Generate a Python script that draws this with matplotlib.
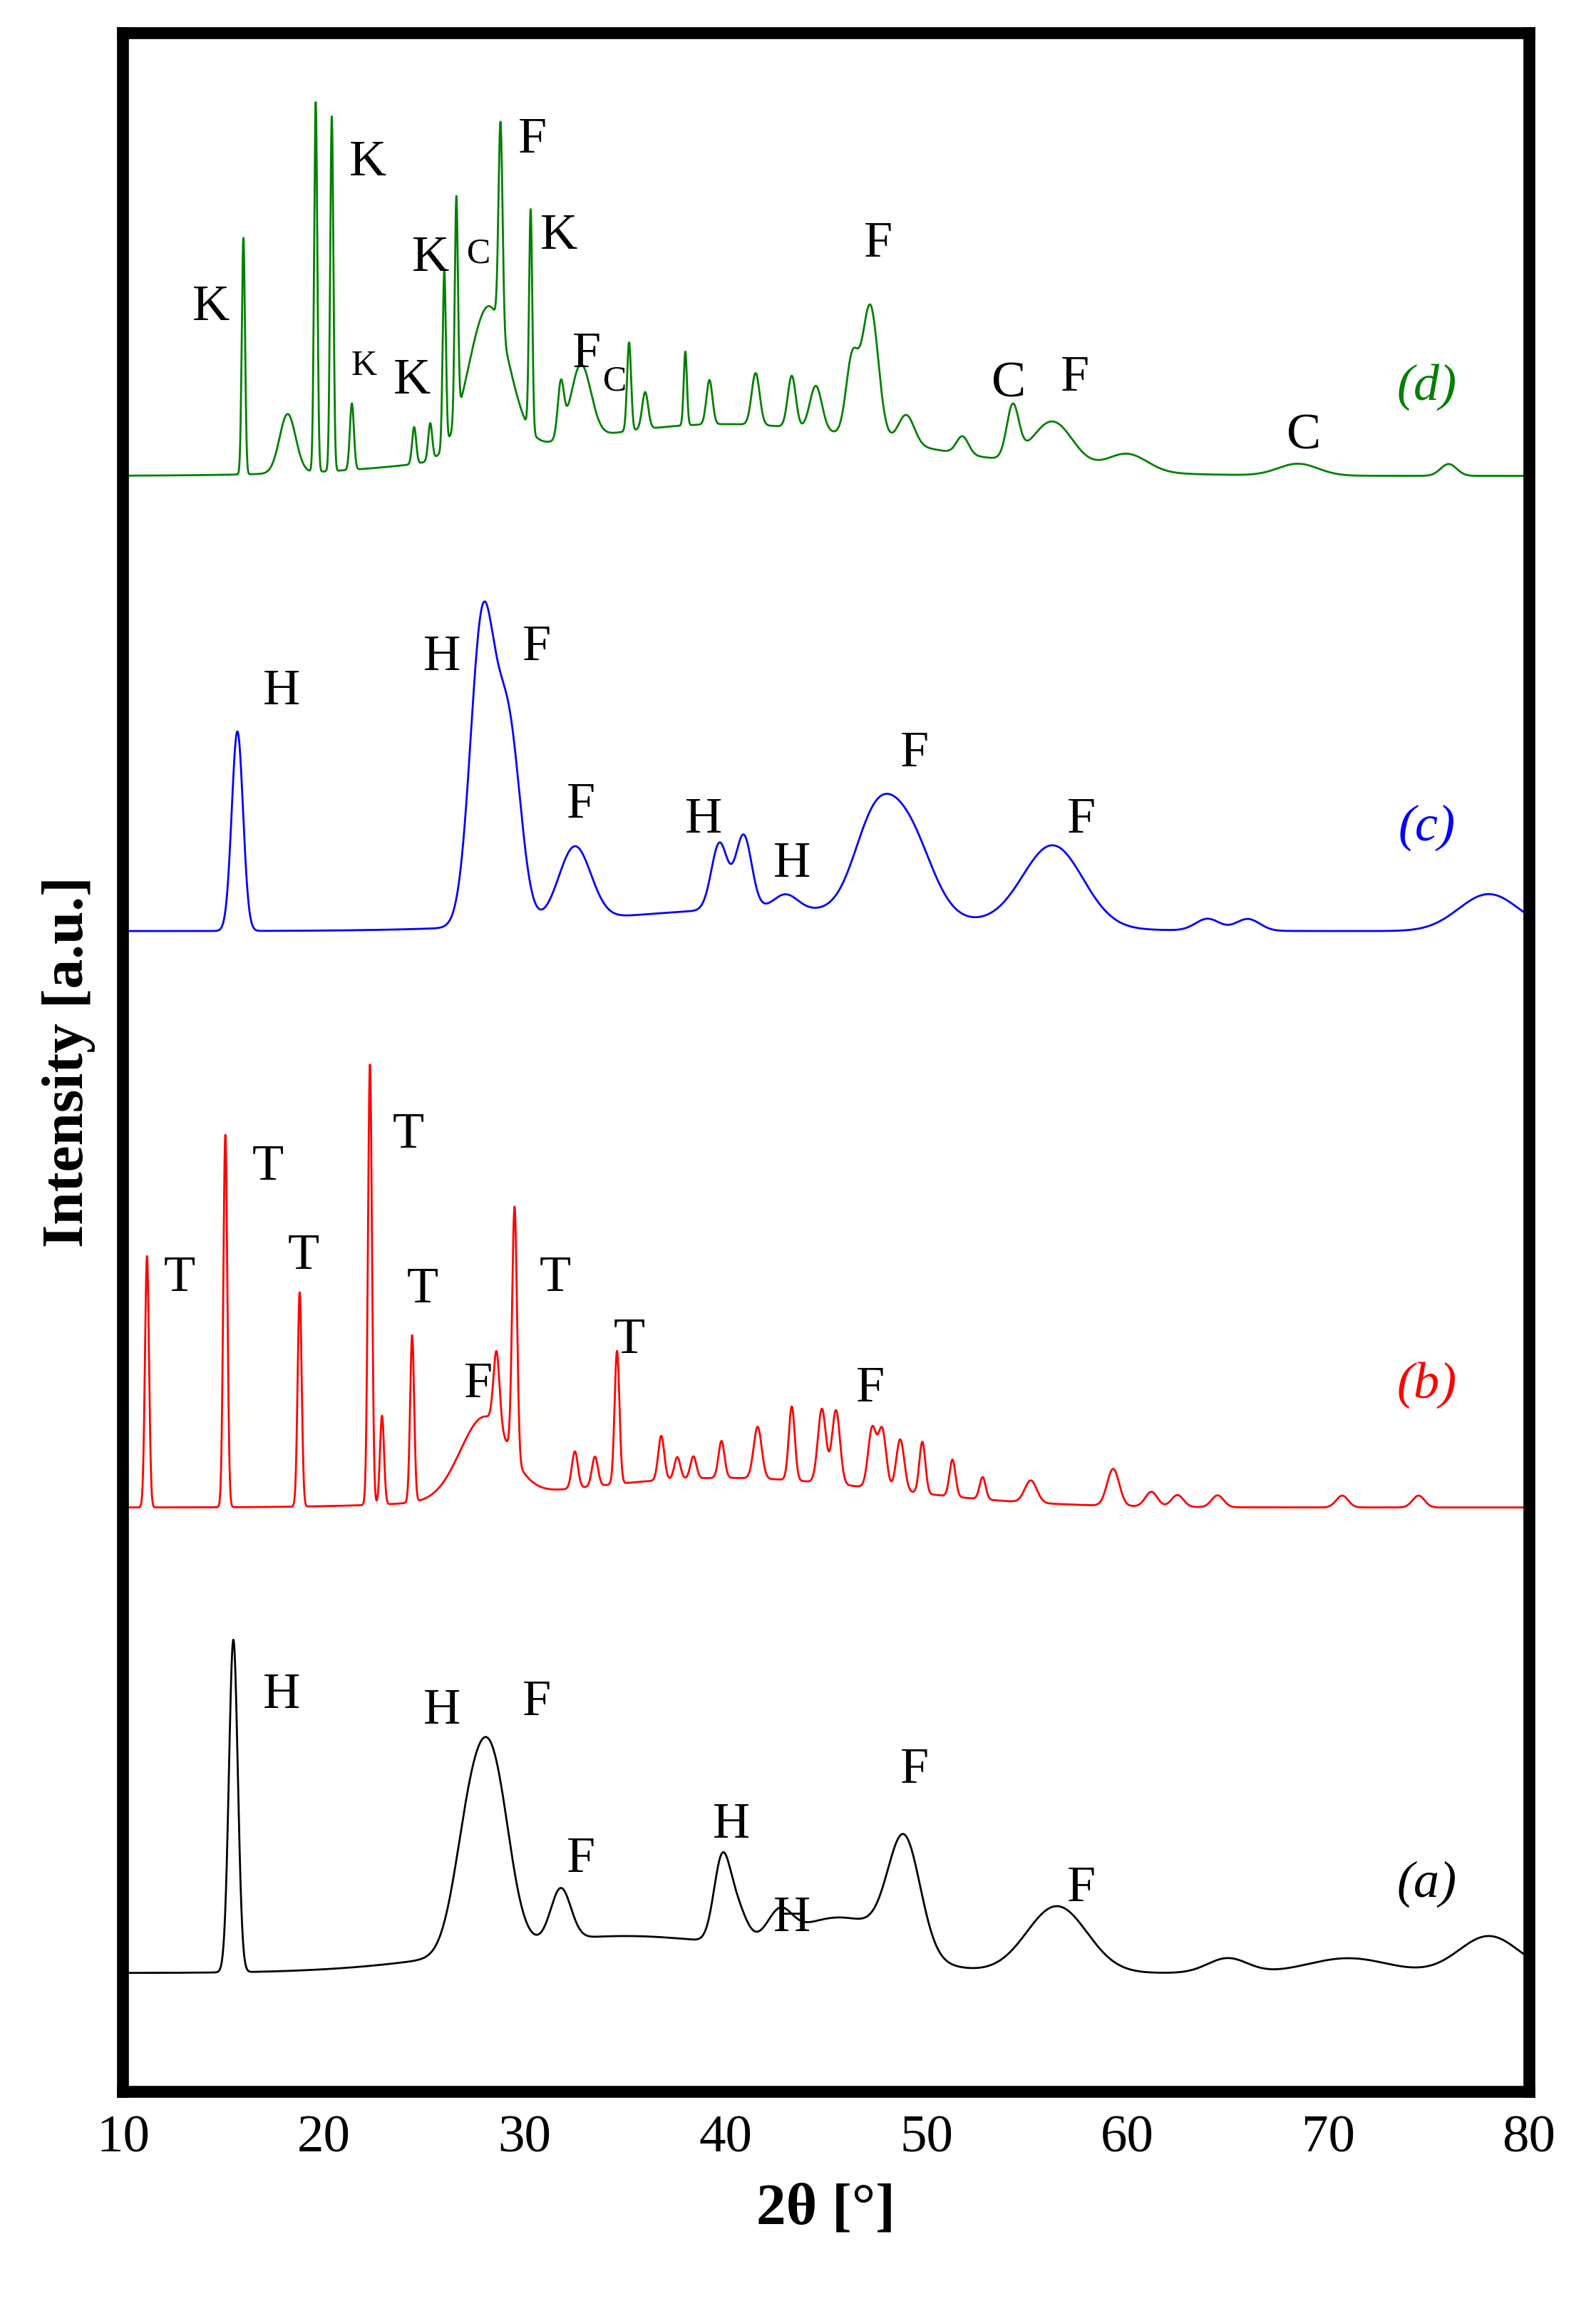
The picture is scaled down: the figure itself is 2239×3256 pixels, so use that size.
import numpy as np
import matplotlib.pyplot as plt

plt.rcParams['font.family'] = ['Liberation Serif', 'DejaVu Serif']

# peaks: (position 2theta, height, width sigma); offsets are baselines in plot units
base_a = 80
peaks_a = [(15.5, 225, 0.22), (27.3, 85, 0.8), (28.5, 105, 0.8), (31.8, 35, 0.5),
           (39.8, 50, 0.4), (40.5, 25, 0.5), (42.7, 18, 0.6), (46.0, 30, 2.5),
           (48.9, 75, 0.8), (56.5, 45, 1.5), (65.0, 10, 1.0), (71.0, 10, 2.0),
           (78.0, 25, 1.5), (35.0, 25, 7.0)]

base_b = 395
peaks_b = [(11.2, 170, 0.1), (15.1, 252, 0.1), (18.8, 145, 0.1), (22.3, 298, 0.1),
           (22.9, 60, 0.1), (24.4, 113, 0.1), (28.0, 55, 1.2), (28.6, 50, 0.15),
           (29.5, 170, 0.12), (32.5, 25, 0.15), (33.5, 20, 0.15), (34.6, 90, 0.12),
           (36.8, 30, 0.15), (37.6, 15, 0.15), (38.4, 15, 0.15), (39.8, 25, 0.15),
           (41.6, 35, 0.2), (43.3, 50, 0.15), (44.8, 50, 0.2), (45.5, 50, 0.2),
           (47.3, 40, 0.2), (47.8, 40, 0.2), (48.7, 35, 0.2), (49.8, 35, 0.15),
           (51.3, 25, 0.15), (52.8, 15, 0.15), (55.2, 15, 0.3), (59.3, 25, 0.3),
           (61.2, 10, 0.3), (62.5, 8, 0.3), (64.5, 8, 0.3), (70.7, 8, 0.3),
           (74.5, 8, 0.3), (40.0, 20, 8.0)]

base_c = 785
peaks_c = [(15.7, 135, 0.28), (27.9, 205, 0.6), (29.2, 130, 0.6), (32.5, 50, 0.8),
           (39.7, 45, 0.4), (40.9, 50, 0.4), (43.0, 10, 0.6), (47.3, 50, 1.0),
           (49.0, 60, 1.2), (56.3, 55, 1.5), (64.0, 8, 0.6), (66.0, 8, 0.6),
           (78.0, 25, 1.5), (42.0, 15, 8.0)]

base_d = 1093
peaks_d = [(16.0, 160, 0.08), (18.2, 40, 0.4), (19.6, 250, 0.08), (20.4, 240, 0.08),
           (21.4, 45, 0.1), (24.5, 25, 0.1), (25.3, 25, 0.1), (26.0, 120, 0.08),
           (26.6, 150, 0.08), (28.2, 100, 1.0), (28.8, 140, 0.1), (30.3, 150, 0.08),
           (31.8, 35, 0.15), (32.8, 50, 0.5), (35.2, 60, 0.1), (36.0, 25, 0.15),
           (38.0, 50, 0.08), (39.2, 30, 0.15), (41.5, 35, 0.2), (43.3, 35, 0.2),
           (44.5, 30, 0.3), (46.3, 50, 0.3), (47.2, 90, 0.4), (49.0, 20, 0.4),
           (51.8, 12, 0.3), (54.3, 35, 0.3), (56.3, 30, 1.0), (60.0, 12, 1.0),
           (68.5, 8, 1.0), (76.0, 8, 0.4), (40.0, 35, 9.0)]

# labels: (2theta, height, text, fontsize)
labels_d = [(14.4, 1207, 'K', 26), (22.2, 1305, 'K', 26), (22.0, 1167, 'K', 18),
            (24.4, 1157, 'K', 26), (25.3, 1240, 'K', 26), (27.7, 1243, 'C', 18),
            (30.4, 1320, 'F', 26), (31.7, 1255, 'K', 26), (33.1, 1175, 'F', 26),
            (34.5, 1157, 'C', 18), (47.6, 1250, 'F', 26), (54.1, 1155, 'C', 26),
            (57.4, 1159, 'F', 26), (68.8, 1120, 'C', 26)]
labels_c = [(17.9, 947, 'H', 26), (25.9, 970, 'H', 26), (30.6, 977, 'F', 26),
            (32.8, 870, 'F', 26), (38.9, 860, 'H', 26), (43.3, 830, 'H', 26),
            (49.4, 905, 'F', 26), (57.7, 860, 'F', 26)]
labels_b = [(12.8, 550, 'T', 26), (17.2, 625, 'T', 26), (19.0, 565, 'T', 26),
            (24.2, 647, 'T', 26), (24.9, 542, 'T', 26), (27.7, 478, 'F', 26),
            (31.5, 550, 'T', 26), (35.2, 508, 'T', 26), (47.2, 475, 'F', 26)]
labels_a = [(17.9, 268, 'H', 26), (25.9, 257, 'H', 26), (30.6, 263, 'F', 26),
            (32.8, 157, 'F', 26), (40.3, 180, 'H', 26), (43.3, 117, 'H', 26),
            (49.4, 217, 'F', 26), (57.7, 137, 'F', 26)]

series = [
    ('(a)', base_a, peaks_a, labels_a, 'black', 140),
    ('(b)', base_b, peaks_b, labels_b, 'red', 478),
    ('(c)', base_c, peaks_c, labels_c, 'blue', 855),
    ('(d)', base_d, peaks_d, labels_d, 'green', 1153),
]

x = np.linspace(10, 80, 7000)

fig = plt.figure(figsize=(11.195, 16.28), dpi=200)
ax = fig.add_axes([0.077, 0.099, 0.881, 0.887])

for name, base, peaks, labels, color, tag_y in series:
    y = np.full_like(x, float(base))
    for pos, h, w in peaks:
        y += h * np.exp(-0.5 * ((x - pos) / w) ** 2)
    ax.plot(x, y, color=color, lw=1.0)
    for px, py, t, fs in labels:
        ax.text(px, py, t, fontsize=fs, ha='center', va='center')
    ax.text(74.9, tag_y, name, fontsize=26, style='italic', color=color,
            ha='center', va='center')

ax.set_xlim(10, 80)
ax.set_ylim(0, 1393)
ax.set_xticks(range(10, 81, 10))
ax.set_yticks([])
ax.tick_params(axis='x', direction='in', length=0, labelsize=27, pad=12)
for s in ax.spines.values():
    s.set_linewidth(6)
ax.set_xlabel('2θ [°]', fontsize=30, fontweight='bold', labelpad=10)
ax.set_ylabel('Intensity [a.u.]', fontsize=30, fontweight='bold', labelpad=14)

fig.savefig('out.png', dpi=200)
